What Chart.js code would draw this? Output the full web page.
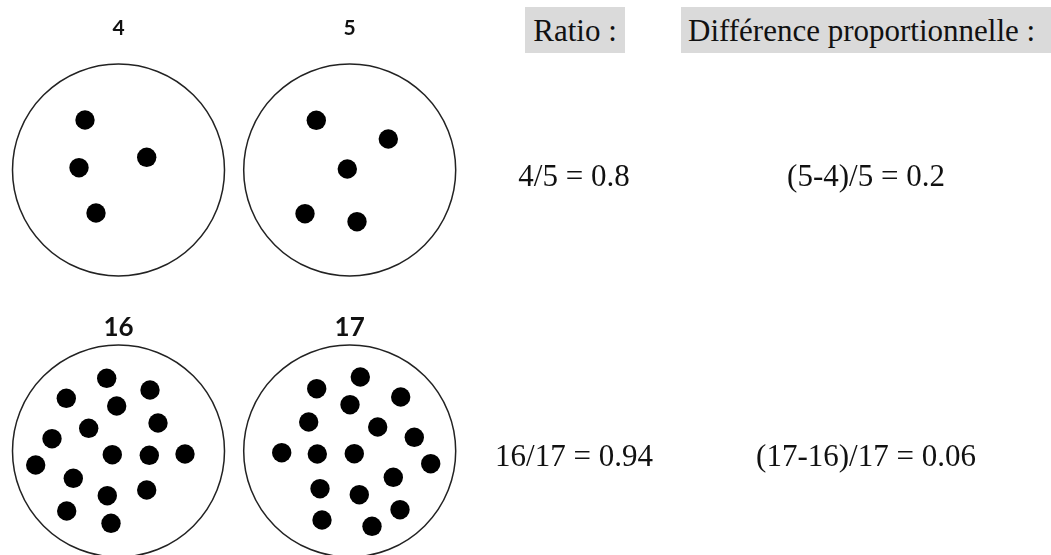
<!DOCTYPE html>
<html>
<head>
<meta charset="utf-8">
<script src="https://cdn.jsdelivr.net/npm/chart.js@4.4.1/dist/chart.umd.min.js"></script>
<style>
  body { margin: 0; background: #fff; }
  #wrap { position: relative; width: 1051px; height: 555px; overflow: hidden; }
  #dots { position: absolute; left: 0; top: 0; }
  .count { position: absolute; font-family: Lato, "Open Sans", sans-serif; font-weight: bold;
           color: #111; transform: translate(-50%, -50%); line-height: 1; }
  .serif { position: absolute; font-family: "Liberation Serif", "Times New Roman", serif;
           font-size: 31px; line-height: 31px; color: #111; white-space: nowrap; }
  .formula { transform: translateX(-50%); }
  .head { background: #dadada; height: 46px; box-sizing: border-box; padding-top: 8px; }
</style>
</head>
<body>
<div id="wrap">
  <canvas id="dots" width="1051" height="555"></canvas>
</div>
<script>
// circle centres (same units as the dots, y grows downwards)
const circleCentres = [
  { x: 118.5, y: 170 }, { x: 349.7, y: 170 },
  { x: 118.5, y: 451 }, { x: 349.7, y: 451 }
];

const dots4 = [
  { x: 85, y: 120 }, { x: 146.7, y: 157.3 }, { x: 79, y: 167.7 }, { x: 96, y: 213 }
];

const dots5 = [
  { x: 316.3, y: 120.3 }, { x: 388.3, y: 139 }, { x: 347.3, y: 169 },
  { x: 305, y: 213.7 }, { x: 357, y: 221.7 }
];

const dots16 = [
  { x: 106.7, y: 378.3 }, { x: 66.3, y: 398.3 }, { x: 150, y: 390 }, { x: 116.7, y: 406 },
  { x: 158, y: 423 }, { x: 88.7, y: 428.3 }, { x: 52, y: 438.7 }, { x: 112.3, y: 454.7 },
  { x: 149.3, y: 455.3 }, { x: 185, y: 454 }, { x: 35.7, y: 465 }, { x: 73.3, y: 478.3 },
  { x: 107.3, y: 495.7 }, { x: 146.7, y: 490 }, { x: 66.7, y: 511 }, { x: 111, y: 523.3 }
];

const dots17 = [
  { x: 360.3, y: 377 }, { x: 316.7, y: 388.7 }, { x: 400.7, y: 397 }, { x: 350, y: 404.7 },
  { x: 308.7, y: 422 }, { x: 377.7, y: 427 }, { x: 414.3, y: 437.3 }, { x: 281.7, y: 452.7 },
  { x: 317.3, y: 454 }, { x: 354.3, y: 453.7 }, { x: 430.7, y: 463.7 }, { x: 393.3, y: 477.3 },
  { x: 320, y: 488.7 }, { x: 359.3, y: 494.7 }, { x: 400, y: 509.7 }, { x: 322, y: 520 },
  { x: 372, y: 526.3 }
];

const groups = [dots4, dots5, dots16, dots17];
const ratioTexts = ["4/5 = 0.8", "16/17 = 0.94"];
const diffTexts = ["(5-4)/5 = 0.2", "(17-16)/17 = 0.06"];
const headers = ["Ratio :", "Différence proportionnelle :"];

const chart = new Chart(document.getElementById("dots").getContext("2d"), {
  type: "scatter",
  data: {
    datasets: [
      {
        label: "points",
        data: [].concat(...groups),
        pointRadius: 9.7,
        pointBackgroundColor: "#000",
        pointBorderWidth: 0,
        order: 1,
        clip: false
      },
      {
        label: "cercles",
        data: circleCentres,
        pointRadius: 106,
        pointBackgroundColor: "#fff",
        pointBorderColor: "#222",
        pointBorderWidth: 1.5,
        order: 2,
        clip: false
      }
    ]
  },
  options: {
    responsive: false,
    animation: false,
    events: [],
    layout: { padding: 0, autoPadding: false },
    plugins: { legend: { display: false }, tooltip: { enabled: false } },
    scales: {
      x: { type: "linear", min: 0, max: 1051, display: false },
      y: { type: "linear", min: 0, max: 555, reverse: true, display: false }
    }
  }
});

// text overlays
const wrap = document.getElementById("wrap");
function addDiv(cls, text, css) {
  const d = document.createElement("div");
  d.className = cls;
  d.textContent = text;
  Object.assign(d.style, css);
  wrap.appendChild(d);
  return d;
}

const xs = chart.scales.x, ys = chart.scales.y;
const countY = [26, 326];
const countSize = ["21px", "26px"];
groups.forEach((g, i) => {
  const c = circleCentres[i];
  const row = i < 2 ? 0 : 1;
  addDiv("count", String(g.length), {
    left: xs.getPixelForValue(c.x) + "px",
    top: ys.getPixelForValue(countY[row]) + "px",
    fontSize: countSize[row]
  });
});

addDiv("serif head", headers[0], { left: "525px", top: "7px", width: "100px", textAlign: "center" });
addDiv("serif head", headers[1], { left: "681px", top: "7px", width: "370px", paddingLeft: "7px" });

const formulaTop = [160, 440];
ratioTexts.forEach((t, i) => addDiv("serif formula", t, { left: "574px", top: formulaTop[i] + "px" }));
diffTexts.forEach((t, i) => addDiv("serif formula", t, { left: "866px", top: formulaTop[i] + "px" }));
</script>
</body>
</html>
